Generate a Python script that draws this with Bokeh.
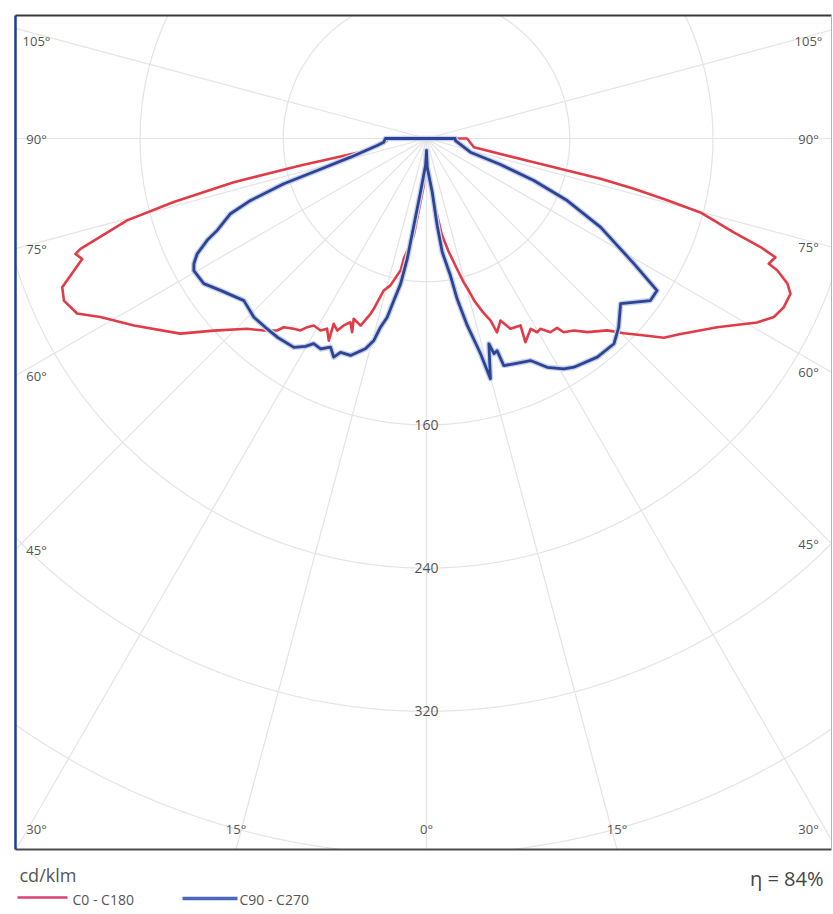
import numpy as np
from bokeh.plotting import figure
from bokeh.embed import file_html
from bokeh.resources import INLINE
from bokeh.models import Range1d
from bokeh.core.properties import value

# ---------------- data: luminous intensity (cd/klm) vs gamma angle (deg) ----------------
# C0 - C180 plane (red): left half = C180, right half = C0
c180_gamma = [0, 3.3, 7.5, 10.7, 11.1, 13.8, 15.7, 17.2, 17.7, 19.4, 22.0, 21.0, 22.5, 23.9, 24.9,
              26.6, 25.8, 27.6, 28.9, 31.1, 32.3, 33.3, 34.9, 37.1, 37.9, 40.3, 43.3, 47.9, 51.6, 57.4,
              61.3, 63.4, 65.9, 67.8, 70.7, 71.8, 72.3, 74.7, 75.9, 77.2, 77.9, 78.6, 87.1, 90, 90]
c180_cdklm = [6.7, 26.3, 54.6, 68.4, 75.0, 84.5, 88.2, 99.6, 102.8, 110.8, 108.6, 115.9, 111.1, 114.2, 118.3,
              115.8, 125.4, 119.9, 122.5, 122.0, 124.7, 128.3, 129.6, 132.2, 135.9, 140.6, 146.1, 160.1, 175.5, 194.0,
              207.7, 218.3, 221.9, 219.8, 203.8, 206.4, 202.9, 173.4, 145.6, 110.4, 72.0, 33.8, 22.0, 22.0, 0]
c0_gamma = [0, 4.5, 7.5, 9.0, 11.0, 13.2, 14.5, 15.5, 16.5, 18.0, 19.4, 20.0, 22.1, 23.8, 26.7,
            25.9, 28.7, 29.7, 30.9, 32.6, 34.6, 35.3, 37.5, 39.7, 43.3, 45.4, 48.2, 50.0, 52.4, 53.7,
            57.0, 60.9, 62.8, 64.7, 66.9, 68.1, 69.4, 69.9, 71.2, 72.0, 73.0, 74.9, 75.6, 76.4, 77.0,
            77.5, 79.6, 90, 90]
c0_cdklm = [6.7, 24.0, 40.0, 54.0, 64.0, 75.0, 83.0, 88.0, 95.0, 102.0, 107.8, 115.2, 109.8, 116.2, 116.9,
            126.5, 121.2, 124.6, 123.9, 128.5, 128.5, 132.6, 135.2, 140.6, 147.3, 154.9, 165.3, 173.1, 179.0, 182.9,
            193.6, 211.3, 218.2, 220.7, 221.1, 217.3, 209.3, 203.6, 205.9, 196.2, 179.5, 158.5, 138.9, 119.2, 99.8,
            61.4, 26.9, 22.7, 0]
# C90 - C270 plane (blue): left half = C270, right half = C90
c270_gamma = [0, 2, 6.4, 8.0, 9.1, 10.1, 11.4, 12.4, 13.7, 14.6, 16.2, 19.3, 21.9, 23.0, 24.7,
              26.7, 28.8, 30.2, 32.4, 36.9, 40.4, 44.0, 48.4, 53.6, 56.9, 60.4, 61.7, 63.3, 65.1, 66.3,
              69.0, 70.6, 72.4, 73.7, 76.2, 81.9, 85.0, 90, 90]
c270_cdklm = [6.7, 15, 30.2, 45, 68.1, 82.5, 92.3, 102.2, 108.5, 116.6, 122.3, 128.4, 128.8, 132.7, 128.3,
              131.6, 130.8, 134.4, 138.2, 138.8, 138.7, 138.8, 136.4, 143.0, 148.5, 149.5, 147.6, 143.4, 135.1, 127.7,
              117.3, 104.2, 83.6, 63.6, 43.7, 27.8, 24.0, 23.0, 0]
c90_gamma = [0, 1.4, 6.1, 7.0, 7.9, 9.9, 10.8, 12.3, 14.1, 14.9, 16.9, 17.4, 18.4, 18.8, 21.2,
             25.1, 27.8, 30.8, 32.8, 38.0, 42.4, 45.5, 49.6, 54.1, 56.6, 58.9, 63.0, 66.2, 68.6, 70.6,
             72.7, 86.0, 90, 90]
c90_cdklm = [6.7, 16.0, 30.2, 49.0, 64.1, 77.7, 91.2, 106.9, 124.0, 138.9, 119.9, 126.0, 124.9, 134.0, 135.0,
             137.0, 144.5, 149.8, 152.0, 155.0, 155.3, 150.5, 142.4, 154.4, 154.3, 135.3, 109.1, 85.9, 64.4, 43.8,
             25.7, 16.2, 16.0, 0]

ring_values = [80, 160, 240, 320, 400]
ring_labelled = [160, 240, 320]
ray_angles = [0, 15, 30, 45, 60, 75, 90, 105]
legend_labels = ["C0 - C180", "C90 - C270"]
unit_label = "cd/klm"
efficiency_label = "\u03b7 = 84%"

RED = "#e23b48"
BLUE = "#2b4494"
GRID = "#e4e4e4"
TXT = "#555555"
FONT = "Open Sans"

# ---------------- layout ----------------
PX = 1.79            # screen px per cd/klm
W, H = 833, 910
CX, CY = 426, 138    # polar centre in figure px


def fx(px):
    return (px - CX) / PX


def fy(py):
    return (CY - py) / PX


p = figure(width=W, height=H, output_backend="svg", toolbar_location=None,
           x_range=Range1d(fx(0), fx(W)), y_range=Range1d(fy(H), fy(0)),
           x_axis_type=None, y_axis_type=None, min_border=0,
           outline_line_color=None)
p.grid.visible = False
p.background_fill_color = "white"
p.border_fill_color = "white"

BL, BR, BT, BB = fx(15), fx(831), fy(15), fy(849)

# rings
t = np.linspace(0, 2 * np.pi, 2881)
for R in ring_values:
    x = R * np.sin(t)
    y = R * np.cos(t)
    m = (x < BL) | (x > BR) | (y > BT) | (y < BB)
    x[m] = np.nan
    y[m] = np.nan
    p.line(x, y, line_color=GRID, line_width=1.2)


def ray_hit(g, side):
    r = np.radians(g)
    dx, dy = side * np.sin(r), -np.cos(r)
    c = []
    if dx < -1e-9:
        c.append((BL / dx, "side"))
    if dx > 1e-9:
        c.append((BR / dx, "side"))
    if dy < -1e-9:
        c.append((BB / dy, "bottom"))
    if dy > 1e-9:
        c.append((BT / dy, "top"))
    tt, edge = min(c)
    return tt * dx, tt * dy, edge


lab_x, lab_y, lab_t = [], [], []
for side in (-1, 1):
    for g in ray_angles:
        hx, hy, edge = ray_hit(g, side)
        p.line([0, hx], [0, hy], line_color=GRID, line_width=1.2)
        if g == 0 and side == 1:
            continue
        if edge == "side":
            lx = (BL + 21 / PX) if side < 0 else (BR - 23 / PX)
            ly = min(max(hy, BB + 21 / PX), BT - 25 / PX)
        else:
            ly = BB + 21 / PX
            lx = min(max(hx, BL + 21 / PX), BR - 28 / PX)
        lab_x.append(lx)
        lab_y.append(ly)
        lab_t.append(f"{g}\u00b0")

p.text(lab_x, lab_y, text=lab_t, text_font=value(FONT), text_font_size="13px",
       text_color=TXT, text_align="center", text_baseline="middle")

p.text([0] * len(ring_labelled), [-r for r in ring_labelled], text=[str(r) for r in ring_labelled],
       text_font=value(FONT), text_font_size="14px", text_color=TXT,
       text_align="center", text_baseline="middle")


def polar_path(gl, il, gr, ir):
    gl = np.radians(np.array(gl, float))[::-1]
    il = np.array(il, float)[::-1]
    gr = np.radians(np.array(gr, float))
    ir = np.array(ir, float)
    x = np.concatenate([-il * np.sin(gl), ir * np.sin(gr)])
    y = np.concatenate([-il * np.cos(gl), -ir * np.cos(gr)])
    return x, y


rx, ry = polar_path(c180_gamma, c180_cdklm, c0_gamma, c0_cdklm)
bx, by = polar_path(c270_gamma, c270_cdklm, c90_gamma, c90_cdklm)

p.line(rx, ry, line_color=RED, line_width=2.6, line_join="round")
p.line(bx, by, line_color="#c8d0ec", line_width=5.5, line_join="round")
p.line(bx, by, line_color=BLUE, line_width=2.8, line_join="round")

# frame
p.line([BL, BR], [BT, BT], line_color="#3a3a3a", line_width=2)
p.line([BL, BR], [BB, BB], line_color="#4d4d4d", line_width=2)
p.line([BL, BL], [BB, BT], line_color="#1d3c8c", line_width=2.5)
p.line([BR, BR], [BB, BT], line_color="#b5b5b5", line_width=1)

# legend / footer
p.text([fx(19)], [fy(874)], text=[unit_label], text_font=value(FONT), text_font_size="18px",
       text_color=TXT, text_align="left", text_baseline="middle")
p.line([fx(17), fx(67)], [fy(897), fy(897)], line_color="#d8436f", line_width=2.5)
p.line([fx(182), fx(237)], [fy(898), fy(898)], line_color="#4a68c0", line_width=3.5)
p.text([fx(72), fx(239)], [fy(899), fy(899)], text=legend_labels, text_font=value(FONT),
       text_font_size="14px", text_color=TXT, text_align="left", text_baseline="middle")
p.text([fx(823)], [fy(878)], text=[efficiency_label], text_font=value(FONT), text_font_size="20px",
       text_color="#444444", text_align="right", text_baseline="middle")

open("out.html", "w").write(file_html(p, INLINE))
